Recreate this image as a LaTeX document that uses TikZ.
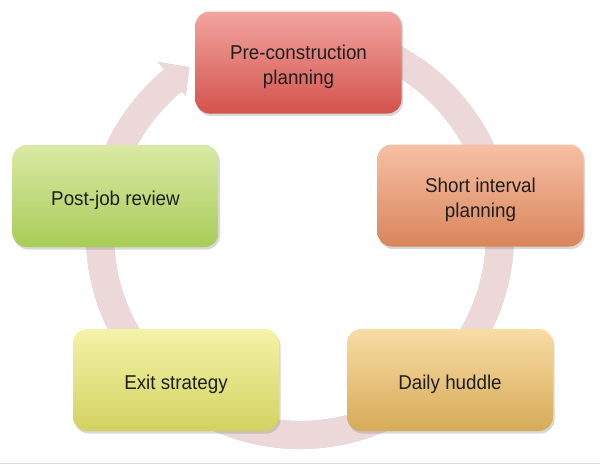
\documentclass[tikz,border=0pt]{standalone}
\usepackage{fontspec}
\setmainfont{Liberation Sans}[FakeStretch=0.94]
\usetikzlibrary{shadows}
\definecolor{ringc}{RGB}{236,215,217}
\definecolor{textc}{RGB}{30,30,30}
\definecolor{preT}{RGB}{242,165,160}
\definecolor{preB}{RGB}{212,82,76}
\definecolor{shortT}{RGB}{247,192,165}
\definecolor{shortB}{RGB}{217,133,90}
\definecolor{dailyT}{RGB}{249,221,165}
\definecolor{dailyB}{RGB}{214,170,88}
\definecolor{exitT}{RGB}{244,243,168}
\definecolor{exitB}{RGB}{210,210,98}
\definecolor{postT}{RGB}{218,233,165}
\definecolor{postB}{RGB}{168,205,88}
\newcommand{\stagetxt}[1]{\raisebox{-4pt}[\height][\depth]{\begin{tabular}{@{}c@{}}#1\end{tabular}}}
\begin{document}
\begin{tikzpicture}[x=1pt,y=-1pt,
  stage/.style={rectangle, rounded corners=14pt, minimum width=206pt,
    minimum height=102pt, inner sep=0pt, align=center, text=textc,
    font=\fontsize{20}{25}\selectfont, shading=axis,
    drop shadow={shadow xshift=1.5pt, shadow yshift=-2.5pt, opacity=0.3}},
  ringline/.style={line width=28pt},
]
\useasboundingbox (0,0) rectangle (600,466);
\fill[white] (0,0) rectangle (600,466);
\coordinate (c) at (300,235);
% ring shadow
\begin{scope}[shift={(-1.5,1.5)}]
\draw[ringline, black, opacity=0.18] ([shift={(-80:200)}]c) arc[start angle=-80, end angle=231, radius=200];
\fill[black, opacity=0.18] ([shift={(236.6:201)}]c) -- ([shift={(230.6:224)}]c) -- ([shift={(230.6:214)}]c) -- ([shift={(230.6:186)}]c) -- ([shift={(230.6:180)}]c) -- cycle;
\end{scope}
% ring
\draw[ringline, ringc] ([shift={(-80:200)}]c) arc[start angle=-80, end angle=231, radius=200];
\coordinate (tip) at ([shift={(236.6:201)}]c);
\coordinate (barbA) at ([shift={(230.6:224)}]c);
\coordinate (barbB) at ([shift={(230.6:180)}]c);
\fill[ringc] (tip) -- (barbA) -- (barbB) -- cycle;
% stages
\node[stage, top color=preT, bottom color=preB] (pre) at (298.5,62.5) {\stagetxt{Pre-construction\\planning}};
\node[stage, top color=shortT, bottom color=shortB] (short) at (480.5,195.5) {\stagetxt{Short interval\\planning}};
\node[stage, top color=dailyT, bottom color=dailyB] (daily) at (450,380) {\stagetxt{Daily huddle}};
\node[stage, top color=exitT, bottom color=exitB] (exit) at (176,380) {\stagetxt{Exit strategy}};
\node[stage, top color=postT, bottom color=postB] (post) at (115.5,196) {\stagetxt{Post-job review}};
% bottom rule
\draw[black!15, line width=1pt] (0,463) -- (600,463);
\end{tikzpicture}
\end{document}
